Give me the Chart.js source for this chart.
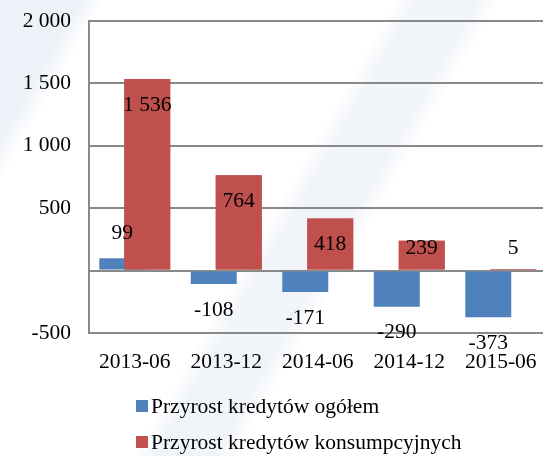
<!DOCTYPE html>
<html>
<head>
<meta charset="utf-8">
<script src="https://cdn.jsdelivr.net/npm/chart.js@4.4.0/dist/chart.umd.min.js"></script>
<style>
  html, body { margin: 0; padding: 0; width: 543px; height: 456px; overflow: hidden; }
  body {
    position: relative;
    font-family: 'Liberation Serif', 'Times New Roman', serif;
    background: linear-gradient(120deg, #eef2f8 0%, #eef2f8 10%, #ffffff 13%, #ffffff 49%, #f1f4f9 52%, #f1f4f9 59%, #ffffff 62%);
  }
  #wrap { position: absolute; left: 0; top: 0; width: 548px; height: 456px; }
  #legend { position: absolute; left: 136px; top: 388px; font-size: 21.5px; color: #000; }
  .item { display: flex; align-items: center; height: 36px; white-space: nowrap; }
  .box { width: 12px; height: 12px; margin-right: 3px; }
</style>
</head>
<body>
<div id="wrap"><canvas id="chart" width="548" height="456"></canvas></div>
<div id="legend"></div>
<script>
const categories = ['2013-06', '2013-12', '2014-06', '2014-12', '2015-06'];
const totalGrowth = [99, -108, -171, -290, -373];
const consumerGrowth = [1536, 764, 418, 239, 5];
const seriesNames = ['Przyrost kredytów ogółem', 'Przyrost kredytów konsumpcyjnych'];
const seriesColors = ['#4f81bd', '#c0504d'];
const yTickValues = [-500, 0, 500, 1000, 1500, 2000];
const yTickLabels = ['-500', '', '500', '1 000', '1 500', '2 000'];

const FONT = 'Liberation Serif';
const FONT_SIZE = 21.5;

// thousands separated with a space, like "1 536"
function fmt(v) {
    return String(v).replace(/\B(?=(\d{3})+(?!\d))/g, ' ');
}

// value labels + keep the red bars on top of the blue ones
const valueLabels = {
    id: 'valueLabels',
    afterDatasetsDraw(chart) {
        const ctx = chart.ctx;
        const zeroY = chart.scales.y.getPixelForValue(0);
        chart.getDatasetMeta(1).data.forEach(bar => bar.draw(ctx));

        ctx.save();
        ctx.font = FONT_SIZE + 'px "' + FONT + '"';
        ctx.fillStyle = '#000';
        ctx.textAlign = 'center';
        ctx.textBaseline = 'middle';
        chart.data.datasets.forEach((ds, i) => {
            chart.getDatasetMeta(i).data.forEach((bar, j) => {
                const v = ds.data[j];
                let y;
                if (i === 0) {
                    y = v >= 0 ? bar.y - 25 : bar.y + 26;
                } else {
                    y = Math.min(bar.y + 26, zeroY - 22);
                }
                ctx.fillText(fmt(v), bar.x, y);
            });
        });
        ctx.restore();
    }
};

const ctx = document.getElementById('chart').getContext('2d');
const chart = new Chart(ctx, {
    type: 'bar',
    data: {
        labels: categories,
        datasets: [
            { label: seriesNames[0], data: totalGrowth, backgroundColor: seriesColors[0] },
            { label: seriesNames[1], data: consumerGrowth, backgroundColor: seriesColors[1] }
        ]
    },
    options: {
        responsive: false,
        animation: false,
        categoryPercentage: 0.546,
        barPercentage: 1.84,
        layout: { padding: { top: 21, right: 1.5, bottom: 83, left: 0 } },
        plugins: {
            legend: { display: false },
            tooltip: { enabled: false }
        },
        scales: {
            x: {
                grid: { display: false },
                border: { display: false },
                afterFit: scale => {
                    scale.height = 40;
                    scale.paddingLeft = 0;
                    scale.paddingRight = 0;
                },
                ticks: {
                    color: '#000',
                    padding: 8,
                    maxRotation: 0,
                    autoSkip: false,
                    font: { family: FONT, size: FONT_SIZE }
                }
            },
            y: {
                min: -500,
                max: 2000,
                afterFit: scale => {
                    scale.width = 89;
                    scale.paddingTop = 0;
                    scale.paddingBottom = 0;
                },
                grid: { color: '#898989', lineWidth: 2, drawTicks: false },
                border: { display: true, color: '#898989', width: 2 },
                ticks: {
                    stepSize: 500,
                    color: '#000',
                    padding: 18,
                    font: { family: FONT, size: FONT_SIZE },
                    callback: value => {
                        const k = yTickValues.indexOf(value);
                        return k === -1 ? '' : yTickLabels[k];
                    }
                }
            }
        }
    },
    plugins: [valueLabels]
});

// legend, one series per row
const legend = document.getElementById('legend');
legend.innerHTML = chart.data.datasets.map(ds => `
    <div class="item">
        <span class="box" style="background:${ds.backgroundColor}"></span>
        <span>${ds.label}</span>
    </div>
`).join('');
</script>
</body>
</html>
